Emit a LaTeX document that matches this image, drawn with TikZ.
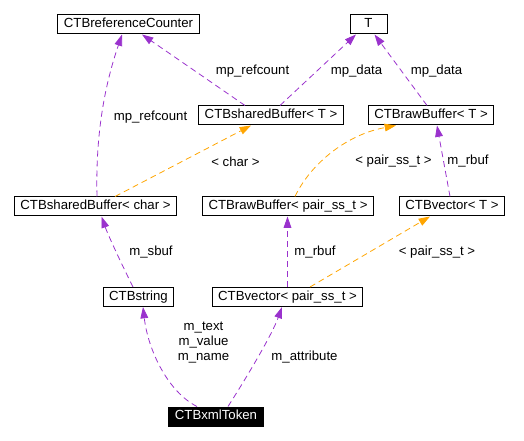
\documentclass[tikz,border=0pt]{standalone}
\usepackage{fontspec}
\setmainfont{Liberation Sans}
\usetikzlibrary{arrows.meta, calc}

\definecolor{usecol}{RGB}{154,50,205}
\definecolor{tplcol}{RGB}{255,165,0}

\begin{document}
\begin{tikzpicture}[x=0.75pt, y=-0.75pt, font=\fontsize{9.9}{11.25}\selectfont]
	% 定义节点样式
	\tikzstyle{cls} = [rectangle, draw, line width=0.75pt, inner xsep=4.5pt, inner ysep=0pt, minimum height=14.25pt, text height=7.3pt, text depth=2.2pt, text centered]
	\tikzstyle{cur} = [cls, fill=black, text=white]
	\tikzstyle{lbl} = [inner sep=0pt, align=center]
	\tikzstyle{use} = [usecol, line width=0.6pt, dash pattern=on 4.5pt off 3pt, -{Triangle[length=8.5pt,width=5.8pt]}]
	\tikzstyle{tpl} = [use, tplcol]
	
	\useasboundingbox (0,0) rectangle (524,441);
	
	% 绘制节点
	\node [cls] (refc) at (128.5,24.5) {CTBreferenceCounter};
	\node [cls, minimum width=27.75pt] (tpar) at (368.5,24.5) {T};
	\node [cls] (sbT) at (271,115.5) {CTBsharedBuffer< T >};
	\node [cls] (rbT) at (431,115.5) {CTBrawBuffer< T >};
	\node [cls] (sbc) at (95.5,206.5) {CTBsharedBuffer< char >};
	\node [cls] (rbp) at (288,206.5) {CTBrawBuffer< pair\_ss\_t >};
	\node [cls] (vT) at (452,206.5) {CTBvector< T >};
	\node [cls] (str) at (138.5,297) {CTBstring};
	\node [cls] (vp) at (287.5,297) {CTBvector< pair\_ss\_t >};
	\node [cur] (xml) at (216,416.5) {CTBxmlToken};
	
	% 绘制箭头
	\draw [use] ($(sbc.north)+(1.5,0)$) .. controls (95,120) and (110,70) .. ($(refc.south)+(-6.5,0)$);
	\draw [use] ($(sbT.north)+(-26,0)$) -- ($(refc.south)+(13.5,0)$);
	\draw [use] ($(sbT.north)+(9,0)$) -- ($(tpar.south)+(-12.5,0)$);
	\draw [use] ($(rbT.north)+(-4,0)$) -- ($(tpar.south)+(6,0)$);
	\draw [tpl] ($(sbc.north)+(19.5,0)$) -- ($(sbT.south)+(-20,0)$);
	\draw [tpl] ($(rbp.north)+(7,0)$) .. controls (310,165) and (345,135) .. ($(rbT.south)+(-35,0)$);
	\draw [use] ($(vT.north)+(-2,0)$) -- ($(rbT.south)+(6,0)$);
	\draw [use] (vp.north) -- ($(rbp.south)+(-0.5,0)$);
	\draw [tpl] ($(vp.north)+(22.5,0)$) -- ($(vT.south)+(-22,0)$);
	\draw [use] ($(str.north)+(-5.5,0)$) .. controls (122,265) and (108,235) .. ($(sbc.south)+(6,0)$);
	\draw [use] ($(xml.north)+(-19,0)$) .. controls (168,392) and (148,350) .. ($(str.south)+(4.5,0)$);
	\draw [use] ($(xml.north)+(12,0)$) .. controls (245,380) and (272,335) .. ($(vp.south)+(-5.5,0)$);
	
	% 边上的文字
	\node [lbl] (l1) at (150.5,117) {mp\_refcount};
	\node [lbl] (l2) at (252.5,71) {mp\_refcount};
	\node [lbl] (l3) at (356.5,71) {mp\_data};
	\node [lbl] (l4) at (436.5,71) {mp\_data};
	\node [lbl] (l5) at (235.5,161.5) {< char >};
	\node [lbl] (l6) at (393.5,161.5) {< pair\_ss\_t >};
	\node [lbl] (l7) at (468,161.5) {m\_rbuf};
	\node [lbl] (l8) at (315,252) {m\_rbuf};
	\node [lbl] (l9) at (437,252) {< pair\_ss\_t >};
	\node [lbl] (l10) at (151,252) {m\_sbuf};
	\node [lbl, text height=7.3pt, text depth=2.2pt] (l11) at (203.5,357.5) {m\_text\\m\_value\\m\_name};
	\node [lbl] (l12) at (304.5,357.5) {m\_attribute};
\end{tikzpicture}
\end{document}
